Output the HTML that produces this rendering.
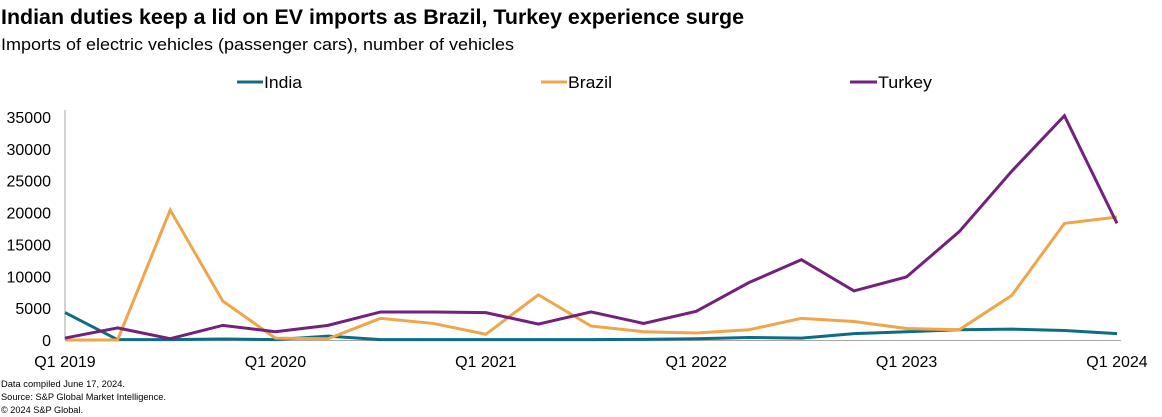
<!DOCTYPE html>
<html><head><meta charset="utf-8"><style>
body{margin:0;background:#fff;width:1162px;height:417px;overflow:hidden;font-family:"Liberation Sans",Arial,sans-serif;}
svg{display:block}
</style></head><body>
<svg id="c" width="1162" height="417">
<text x="1" y="24" font-size="21" font-weight="bold" fill="#000" textLength="743" lengthAdjust="spacingAndGlyphs">Indian duties keep a lid on EV imports as Brazil, Turkey experience surge</text>
<text x="1" y="50" font-size="17" fill="#000" textLength="513" lengthAdjust="spacingAndGlyphs">Imports of electric vehicles (passenger cars), number of vehicles</text>
<g>
<g><line x1="237" y1="82" x2="263" y2="82" stroke="#0e6d82" stroke-width="3"/><text x="264" y="88" font-size="17" textLength="38" lengthAdjust="spacingAndGlyphs">India</text></g>
<g><line x1="541" y1="82" x2="567" y2="82" stroke="#f0a54a" stroke-width="3"/><text x="568" y="88" font-size="17" textLength="44" lengthAdjust="spacingAndGlyphs">Brazil</text></g>
<g><line x1="850" y1="82" x2="877" y2="82" stroke="#74207d" stroke-width="3"/><text x="878" y="88" font-size="17" textLength="54" lengthAdjust="spacingAndGlyphs">Turkey</text></g>
</g>
<g id="plot"></g>
<text x="1" y="387" font-size="9.5" textLength="124" lengthAdjust="spacingAndGlyphs">Data compiled June 17, 2024.</text>
<text x="1" y="400" font-size="9.5" textLength="165" lengthAdjust="spacingAndGlyphs">Source: S&amp;P Global Market Intelligence.</text>
<text x="1" y="413" font-size="9.5" textLength="82" lengthAdjust="spacingAndGlyphs">© 2024 S&amp;P Global.</text>
</svg>
<script>
const quarters = 21;
const xTickLabels = ["Q1 2019","Q1 2020","Q1 2021","Q1 2022","Q1 2023","Q1 2024"];
const xTickIndex = [0,4,8,12,16,20];
const yTicks = [0,5000,10000,15000,20000,25000,30000,35000];
const india = [4300,50,50,150,50,600,50,50,50,50,50,100,200,400,300,1000,1300,1600,1700,1500,1000];
const brazil = [0,0,20400,6100,300,200,3400,2600,900,7100,2200,1300,1100,1600,3400,2900,1800,1600,7000,18300,19300];
const turkey = [300,1900,200,2300,1300,2300,4400,4400,4300,2500,4400,2600,4500,9000,12600,7700,9900,17000,26500,35200,18300];

const X0=65, X1=1117, Y0=340, Ymax=35000, Ytop=117;
const x = i => X0 + (X1-X0)*i/(quarters-1);
const y = v => Y0 - (Y0-Ytop)*v/Ymax;
const NS="http://www.w3.org/2000/svg";
const plot=document.getElementById('plot');
function mk(tag,attrs){const e=document.createElementNS(NS,tag);for(const k in attrs)e.setAttribute(k,attrs[k]);plot.appendChild(e);return e;}

yTicks.forEach(v=>{
  const t=mk('text',{x:51,y:y(v)+6,'font-size':16,'text-anchor':'end'});
  t.textContent=v;
  
  
});
xTickIndex.forEach((qi,k)=>{
  const t=mk('text',{x:x(qi),y:367,'font-size':16,'text-anchor':'middle'});
  t.textContent=xTickLabels[k];
  
  
});
const ya=mk('line',{x1:X0,y1:110,x2:X0,y2:Y0,stroke:'#a6a6a6','stroke-width':1});


const xa=mk('line',{x1:X0,y1:Y0+0.5,x2:1121,y2:Y0+0.5,stroke:'#a6a6a6','stroke-width':1});



function series(data,color,name){
  const p=mk('polyline',{points:data.map((v,i)=>x(i)+','+y(v)).join(' '),fill:'none',stroke:color,'stroke-width':3,'stroke-linejoin':'miter'});
  
  
}
series(india,'#0e6d82','india-line');
series(brazil,'#f0a54a','brazil-line');
series(turkey,'#74207d','turkey-line');
</script>
</body></html>
